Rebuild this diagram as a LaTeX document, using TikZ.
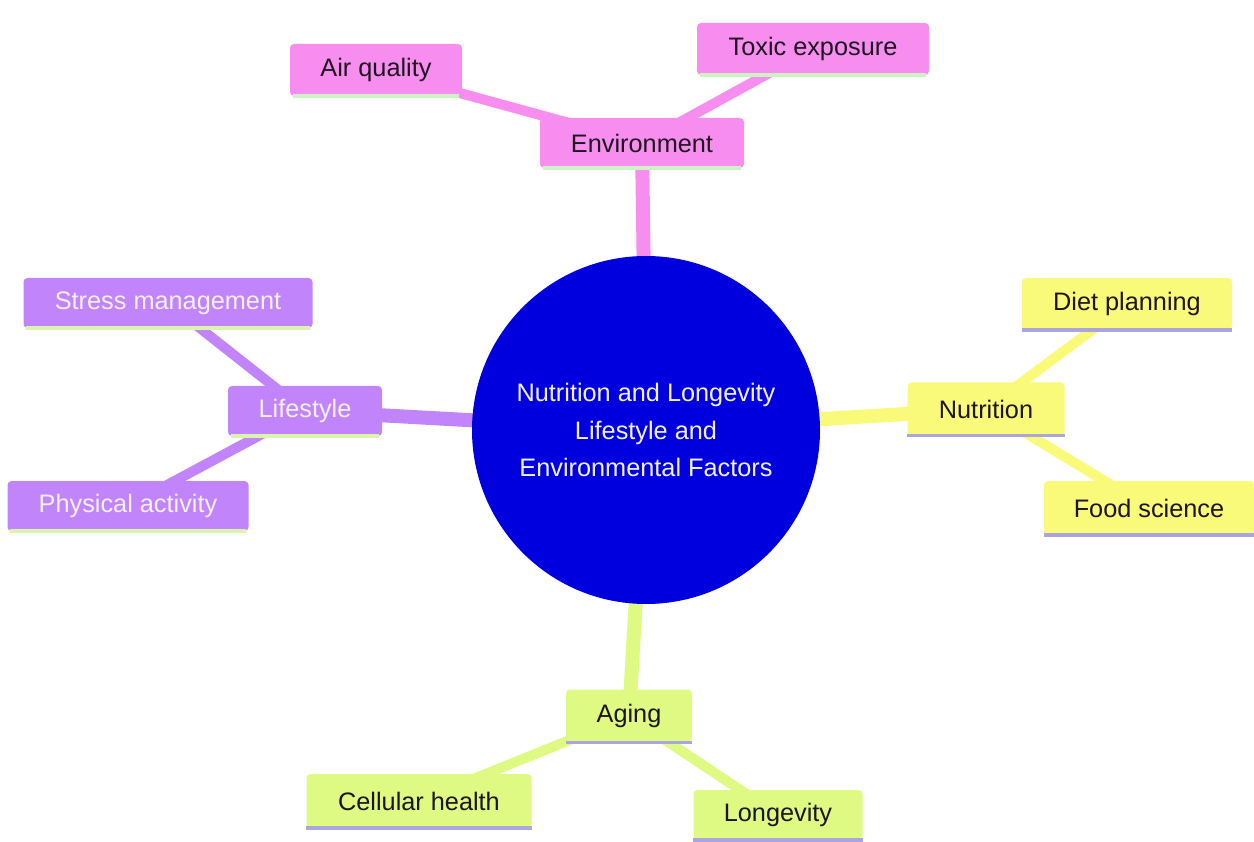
\documentclass[tikz,border=0pt]{standalone}
\usepackage{fontspec}
\setmainfont{Liberation Sans}
\usetikzlibrary{backgrounds}
\definecolor{pinkc}{RGB}{248,141,240}
\definecolor{purplec}{RGB}{193,132,250}
\definecolor{yellowc}{RGB}{250,250,122}
\definecolor{greenc}{RGB}{222,250,130}
\definecolor{rootc}{RGB}{0,0,222}
\definecolor{lavline}{RGB}{170,164,224}
\definecolor{mintline}{RGB}{205,242,195}
\definecolor{darktxt}{RGB}{30,20,30}
\definecolor{lighttxt}{RGB}{244,240,248}
\tikzset{
  box/.style={rectangle, rounded corners=4pt, inner sep=0pt, font=\fontsize{25.3}{30}\selectfont, text=darktxt},
  pinkbox/.style={box, fill=pinkc},
  purplebox/.style={box, fill=purplec, text=lighttxt},
  yellowbox/.style={box, fill=yellowc},
  greenbox/.style={box, fill=greenc},
  rootedge/.style={line width=14pt},
  childedge/.style={line width=10pt},
  bottomline/.style={line width=3.5pt}
}
\begin{document}
\begin{tikzpicture}[x=1pt,y=-1pt]
\useasboundingbox (0,0) rectangle (1254,842);
% nodes
\node[circle, fill=rootc, minimum size=348pt, inner sep=0pt, text=lighttxt, align=center,
      font=\fontsize{25.3}{37.5}\selectfont] (root) at (646,430)
      {Nutrition and Longevity\\Lifestyle and\\Environmental Factors};
\node[pinkbox, minimum width=204pt, minimum height=50pt] (env) at (642,143) {Environment};
\node[pinkbox, minimum width=172pt, minimum height=52pt] (air) at (376,70) {Air quality};
\node[pinkbox, minimum width=232pt, minimum height=52pt] (toxic) at (813,49) {Toxic exposure};
\node[purplebox, minimum width=154pt, minimum height=50pt] (life) at (305,411) {Lifestyle};
\node[purplebox, minimum width=289pt, minimum height=50pt] (stress) at (168,303) {Stress management};
\node[purplebox, minimum width=241pt, minimum height=50pt] (phys) at (128,506) {Physical activity};
\node[yellowbox, minimum width=157pt, minimum height=53pt] (nut) at (986,409) {Nutrition};
\node[yellowbox, minimum width=210pt, minimum height=52pt] (diet) at (1127,304) {Diet planning};
\node[yellowbox, minimum width=210pt, minimum height=54pt] (food) at (1149,508) {Food science};
\node[greenbox, minimum width=126pt, minimum height=53pt] (aging) at (629,716) {Aging};
\node[greenbox, minimum width=225pt, minimum height=54pt] (cell) at (419,801) {Cellular health};
\node[greenbox, minimum width=169pt, minimum height=50pt] (long) at (778,815) {Longevity};
% bottom lines
\foreach \n in {env,air,toxic}
  \draw[bottomline, mintline] ([xshift=3pt]\n.south west) -- ([xshift=-3pt]\n.south east);
\foreach \n in {life,stress,phys}
  \draw[bottomline, mintline!70!yellowc] ([xshift=3pt]\n.south west) -- ([xshift=-3pt]\n.south east);
\foreach \n in {nut,diet,food,aging,cell,long}
  \draw[bottomline, lavline] (\n.south west) -- (\n.south east);
% edges behind
\begin{scope}[on background layer]
  \draw[rootedge, pinkc] (root.center) -- (env.center);
  \draw[rootedge, purplec] (root.center) -- (life.center);
  \draw[rootedge, yellowc] (root.center) -- (nut.center);
  \draw[rootedge, greenc] (root.center) -- (aging.center);
  \draw[childedge, pinkc] (env.center) -- (air.center);
  \draw[childedge, pinkc] (env.center) -- (toxic.center);
  \draw[childedge, purplec] (life.center) -- (stress.center);
  \draw[childedge, purplec] (life.center) -- (phys.center);
  \draw[childedge, yellowc] (nut.center) -- (diet.center);
  \draw[childedge, yellowc] (nut.center) -- (food.center);
  \draw[childedge, greenc] (aging.center) -- (cell.center);
  \draw[childedge, greenc] (aging.center) -- (long.center);
\end{scope}
\end{tikzpicture}
\end{document}
